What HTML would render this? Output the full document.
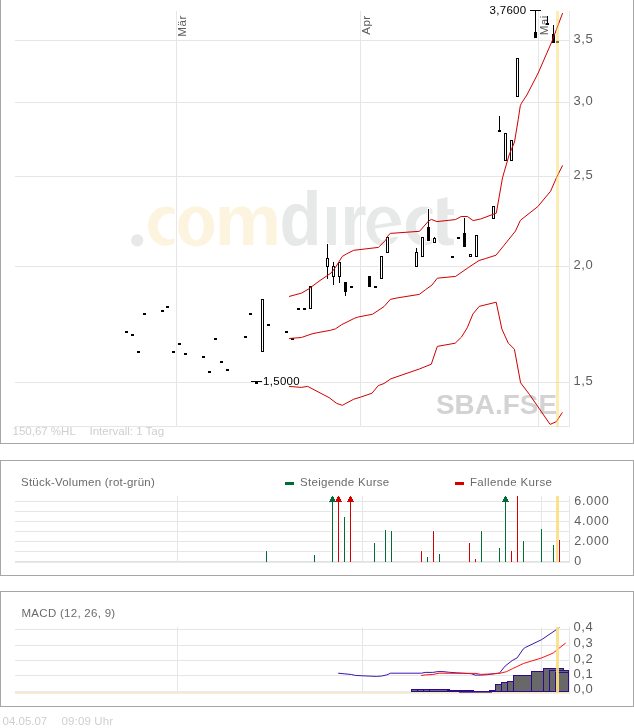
<!DOCTYPE html>
<html><head><meta charset="utf-8"><title>Chart</title>
<style>
html,body{margin:0;padding:0;background:#fff;width:634px;height:728px;overflow:hidden}
svg{display:block;will-change:transform}
text{font-family:"Liberation Sans",sans-serif}
</style></head><body>
<svg width="634" height="728" viewBox="0 0 634 728">
<rect x="0" y="0" width="634" height="728" fill="#fff"/>
<rect x="0" y="0" width="1" height="444" fill="#a6a6a6"/>
<rect x="633" y="0" width="1" height="444" fill="#a6a6a6"/>
<rect x="0" y="443" width="634" height="1" fill="#a6a6a6"/>
<rect x="0" y="460" width="634" height="1" fill="#a6a6a6"/>
<rect x="0" y="575" width="634" height="1" fill="#a6a6a6"/>
<rect x="0" y="460" width="1" height="116" fill="#a6a6a6"/>
<rect x="633" y="460" width="1" height="116" fill="#a6a6a6"/>
<rect x="0" y="591" width="634" height="1" fill="#a6a6a6"/>
<rect x="0" y="706" width="634" height="1" fill="#a6a6a6"/>
<rect x="0" y="591" width="1" height="116" fill="#a6a6a6"/>
<rect x="633" y="591" width="1" height="116" fill="#a6a6a6"/>
<g id="wm">
<circle cx="137.2" cy="240.4" r="6.1" fill="#e7e8e8"/>
<defs>
<clipPath id="cc1"><rect x="140" y="200" width="34.6" height="50"/></clipPath>
<clipPath id="cc2"><rect x="400" y="200" width="32.4" height="50"/></clipPath>
<mask id="me" maskUnits="userSpaceOnUse" x="355" y="200" width="55" height="50"><path fill="#fff" d="M401.20,226.10 C401.20,237.47 393.91,245.70 383.85,245.70 C373.79,245.70 366.50,237.47 366.50,226.10 C366.50,214.73 373.79,206.50 383.85,206.50 C393.91,206.50 401.20,214.73 401.20,226.10 Z"/><path fill="#000" d="M374.80,226.30 A8.70,13.90 0 1,0 392.20,226.30 A8.70,13.90 0 1,0 374.80,226.30 Z"/><polygon fill="#fff" points="374,225.2 393.5,222.3 393.5,226.0 374,228.7"/><polygon fill="#000" points="388,226.8 404,224.4 404,236.0 390.5,237.6"/></mask>
</defs>
<path clip-path="url(#cc1)" fill-rule="evenodd" fill="#fdf4e0" d="M183.60,226.20 C183.60,237.18 175.77,245.80 165.80,245.80 C155.83,245.80 148.00,237.18 148.00,226.20 C148.00,215.22 155.83,206.60 165.80,206.60 C175.77,206.60 183.60,215.22 183.60,226.20 Z M157.80,226.35 A12.00,12.85 0 1,0 181.80,226.35 A12.00,12.85 0 1,0 157.80,226.35 Z"/>
<path fill-rule="evenodd" fill="#fdf4e0" d="M214.20,226.45 C214.20,238.42 206.98,246.40 196.15,246.40 C185.32,246.40 178.10,238.42 178.10,226.45 C178.10,214.48 185.32,206.50 196.15,206.50 C206.98,206.50 214.20,214.48 214.20,226.45 Z M188.20,226.30 A7.80,13.90 0 1,0 203.80,226.30 A7.80,13.90 0 1,0 188.20,226.30 Z"/>
<text transform="translate(214.56,245.4) scale(1.0385,1)" font-family="Liberation Sans" font-weight="bold" font-size="72.23" fill="#fdf4e0">m</text>
<text transform="translate(279.58,245.4) scale(0.8981,1)" font-family="Liberation Sans" font-weight="bold" font-size="76.45" fill="#e7e8e8">d</text>
<text transform="translate(322.36,245.4) scale(0.9025,1)" font-family="Liberation Sans" font-weight="bold" font-size="72.68" fill="#e7e8e8">ı</text>
<text transform="translate(340.59,245.4) scale(0.9281,1)" font-family="Liberation Sans" font-weight="bold" font-size="72.04" fill="#e7e8e8">r</text>
<rect x="355" y="200" width="55" height="50" fill="#e7e8e8" mask="url(#me)"/>
<path clip-path="url(#cc2)" fill-rule="evenodd" fill="#e7e8e8" d="M441.50,226.05 C441.50,236.94 433.67,245.50 423.70,245.50 C413.73,245.50 405.90,236.94 405.90,226.05 C405.90,215.16 413.73,206.60 423.70,206.60 C433.67,206.60 441.50,215.16 441.50,226.05 Z M415.70,226.20 A12.00,12.85 0 1,0 439.70,226.20 A12.00,12.85 0 1,0 415.70,226.20 Z"/>
<path fill="#e7e8e8" d="M437.3,199.5 L447.5,197.1 L447.5,209 L453.9,209 L453.9,215 L447.5,215 L447.5,233.5 Q447.5,238.8 451.8,238.8 L453.9,238.6 L453.9,244.8 Q450.5,245.6 446.5,245.6 Q437.3,245.6 437.3,235.5 Z"/>
</g>
<text x="436" y="414.3" font-family="Liberation Sans" font-weight="bold" font-size="28.3" fill="#d3d3d3" textLength="121" lengthAdjust="spacingAndGlyphs">SBA.FSE</text>
<rect x="15" y="40" width="555" height="1" fill="#e6e6e6"/>
<rect x="15" y="102" width="555" height="1" fill="#e6e6e6"/>
<rect x="15" y="176" width="555" height="1" fill="#e6e6e6"/>
<rect x="15" y="266" width="555" height="1" fill="#e6e6e6"/>
<rect x="15" y="382" width="555" height="1" fill="#e6e6e6"/>
<rect x="15" y="426" width="555" height="1" fill="#e6e6e6"/>
<rect x="176" y="11" width="1" height="416" fill="#e6e6e6"/>
<rect x="360" y="11" width="1" height="416" fill="#e6e6e6"/>
<rect x="538" y="11" width="1" height="416" fill="#e6e6e6"/>
<rect x="569" y="11" width="1" height="416" fill="#e6e6e6"/>
<text x="573.5" y="42.8" font-family="Liberation Sans" font-size="13" fill="#5e5e5e" letter-spacing="0.6">3,5</text>
<text x="573.5" y="104.8" font-family="Liberation Sans" font-size="13" fill="#5e5e5e" letter-spacing="0.6">3,0</text>
<text x="573.5" y="178.8" font-family="Liberation Sans" font-size="13" fill="#5e5e5e" letter-spacing="0.6">2,5</text>
<text x="573.5" y="268.8" font-family="Liberation Sans" font-size="13" fill="#5e5e5e" letter-spacing="0.6">2,0</text>
<text x="573.5" y="384.8" font-family="Liberation Sans" font-size="13" fill="#5e5e5e" letter-spacing="0.6">1,5</text>
<text transform="translate(186.2,15.3) rotate(-90)" text-anchor="end" font-family="Liberation Sans" font-size="11.6" fill="#5e5e5e" letter-spacing="0.45">Mär</text>
<text transform="translate(370.2,15.3) rotate(-90)" text-anchor="end" font-family="Liberation Sans" font-size="11.6" fill="#5e5e5e" letter-spacing="0.45">Apr</text>
<text transform="translate(548.2,15.3) rotate(-90)" text-anchor="end" font-family="Liberation Sans" font-size="11.6" fill="#5e5e5e" letter-spacing="0.45">Mai</text>
<text x="12.5" y="435" font-family="Liberation Sans" font-size="11.5" fill="#cfcfcf">150,67 %HL</text>
<text x="89.5" y="435" font-family="Liberation Sans" font-size="11.5" fill="#cfcfcf">Intervall: 1 Tag</text>
<rect x="263" y="376" width="37" height="11" fill="#fff"/>
<rect x="124" y="330" width="5" height="4" fill="#ffffff"/>
<rect x="130" y="333" width="5" height="4" fill="#ffffff"/>
<rect x="136" y="350" width="5" height="4" fill="#ffffff"/>
<rect x="142" y="312" width="5" height="4" fill="#ffffff"/>
<rect x="160" y="309" width="5" height="4" fill="#ffffff"/>
<rect x="165" y="305" width="5" height="4" fill="#ffffff"/>
<rect x="171" y="350" width="5" height="4" fill="#ffffff"/>
<rect x="177" y="342" width="5" height="4" fill="#ffffff"/>
<rect x="183" y="352" width="5" height="4" fill="#ffffff"/>
<rect x="201" y="355" width="5" height="4" fill="#ffffff"/>
<rect x="207" y="370" width="5" height="4" fill="#ffffff"/>
<rect x="213" y="337" width="5" height="4" fill="#ffffff"/>
<rect x="219" y="360" width="5" height="4" fill="#ffffff"/>
<rect x="225" y="368" width="5" height="4" fill="#ffffff"/>
<rect x="243" y="335" width="5" height="4" fill="#ffffff"/>
<rect x="248" y="312" width="5" height="4" fill="#ffffff"/>
<rect x="254" y="381" width="5" height="4" fill="#ffffff"/>
<rect x="266" y="323" width="5" height="4" fill="#ffffff"/>
<rect x="284" y="330" width="5" height="4" fill="#ffffff"/>
<rect x="290" y="337" width="5" height="4" fill="#ffffff"/>
<rect x="296" y="307" width="5" height="4" fill="#ffffff"/>
<rect x="302" y="307" width="5" height="4" fill="#ffffff"/>
<rect x="349" y="285" width="5" height="4" fill="#ffffff"/>
<rect x="373" y="285" width="5" height="4" fill="#ffffff"/>
<rect x="450" y="255" width="5" height="4" fill="#ffffff"/>
<rect x="456" y="236" width="5" height="4" fill="#ffffff"/>
<rect x="497" y="129" width="5" height="4" fill="#ffffff"/>
<rect x="260" y="298" width="5" height="55" fill="#ffffff"/>
<rect x="308" y="285" width="5" height="25" fill="#ffffff"/>
<rect x="325" y="257" width="5" height="11" fill="#ffffff"/>
<rect x="331" y="265" width="5" height="13" fill="#ffffff"/>
<rect x="337" y="261" width="5" height="17" fill="#ffffff"/>
<rect x="379" y="255" width="5" height="25" fill="#ffffff"/>
<rect x="385" y="236" width="5" height="18" fill="#ffffff"/>
<rect x="414" y="251" width="5" height="17" fill="#ffffff"/>
<rect x="420" y="236" width="5" height="22" fill="#ffffff"/>
<rect x="432" y="237" width="5" height="7" fill="#ffffff"/>
<rect x="468" y="253" width="5" height="5" fill="#ffffff"/>
<rect x="474" y="234" width="5" height="24" fill="#ffffff"/>
<rect x="491" y="205" width="5" height="15" fill="#ffffff"/>
<rect x="503" y="132" width="5" height="30" fill="#ffffff"/>
<rect x="509" y="139" width="5" height="23" fill="#ffffff"/>
<rect x="515" y="57" width="5" height="41" fill="#ffffff"/>
<rect x="326" y="243" width="3" height="16" fill="#ffffff"/>
<rect x="326" y="266" width="3" height="14" fill="#ffffff"/>
<rect x="332" y="261" width="3" height="6" fill="#ffffff"/>
<rect x="332" y="276" width="3" height="10" fill="#ffffff"/>
<rect x="338" y="276" width="3" height="8" fill="#ffffff"/>
<rect x="415" y="247" width="3" height="6" fill="#ffffff"/>
<rect x="433" y="236" width="3" height="3" fill="#ffffff"/>
<rect x="498" y="115" width="3" height="16" fill="#ffffff"/>
<rect x="344" y="291" width="3" height="6" fill="#ffffff"/>
<rect x="427" y="208" width="3" height="20" fill="#ffffff"/>
<rect x="463" y="217" width="3" height="17" fill="#ffffff"/>
<rect x="534" y="9" width="3" height="24" fill="#ffffff"/>
<rect x="552" y="24" width="3" height="11" fill="#ffffff"/>
<rect x="343" y="281" width="5" height="12" fill="#ffffff"/>
<rect x="367" y="275" width="5" height="13" fill="#ffffff"/>
<rect x="426" y="226" width="5" height="16" fill="#ffffff"/>
<rect x="462" y="232" width="5" height="16" fill="#ffffff"/>
<rect x="533" y="31" width="5" height="8" fill="#ffffff"/>
<rect x="551" y="33" width="5" height="11" fill="#ffffff"/>
<rect x="125" y="331" width="3" height="2" fill="#000"/>
<rect x="131" y="334" width="3" height="2" fill="#000"/>
<rect x="137" y="351" width="3" height="2" fill="#000"/>
<rect x="143" y="313" width="3" height="2" fill="#000"/>
<rect x="161" y="310" width="3" height="2" fill="#000"/>
<rect x="166" y="306" width="3" height="2" fill="#000"/>
<rect x="172" y="351" width="3" height="2" fill="#000"/>
<rect x="178" y="343" width="3" height="2" fill="#000"/>
<rect x="184" y="353" width="3" height="2" fill="#000"/>
<rect x="202" y="356" width="3" height="2" fill="#000"/>
<rect x="208" y="371" width="3" height="2" fill="#000"/>
<rect x="214" y="338" width="3" height="2" fill="#000"/>
<rect x="220" y="361" width="3" height="2" fill="#000"/>
<rect x="226" y="369" width="3" height="2" fill="#000"/>
<rect x="244" y="336" width="3" height="2" fill="#000"/>
<rect x="249" y="313" width="3" height="2" fill="#000"/>
<rect x="255" y="382" width="3" height="2" fill="#000"/>
<rect x="267" y="324" width="3" height="2" fill="#000"/>
<rect x="285" y="331" width="3" height="2" fill="#000"/>
<rect x="291" y="338" width="3" height="2" fill="#000"/>
<rect x="297" y="308" width="3" height="2" fill="#000"/>
<rect x="303" y="308" width="3" height="2" fill="#000"/>
<rect x="350" y="286" width="3" height="2" fill="#000"/>
<rect x="374" y="286" width="3" height="2" fill="#000"/>
<rect x="451" y="256" width="3" height="2" fill="#000"/>
<rect x="457" y="237" width="3" height="2" fill="#000"/>
<rect x="546" y="23" width="3" height="2" fill="#000"/>
<rect x="498" y="130" width="3" height="2" fill="#000"/>
<rect x="556" y="41" width="3" height="2" fill="#303030"/>
<rect x="261.5" y="299.5" width="2" height="52" fill="#fff" stroke="#000" stroke-width="1"/>
<rect x="309.5" y="286.5" width="2" height="22" fill="#fff" stroke="#000" stroke-width="1"/>
<rect x="326.5" y="258.5" width="2" height="8" fill="#fff" stroke="#000" stroke-width="1"/>
<rect x="332.5" y="266.5" width="2" height="10" fill="#fff" stroke="#000" stroke-width="1"/>
<rect x="338.5" y="262.5" width="2" height="14" fill="#fff" stroke="#000" stroke-width="1"/>
<rect x="380.5" y="256.5" width="2" height="22" fill="#fff" stroke="#000" stroke-width="1"/>
<rect x="386.5" y="237.5" width="2" height="15" fill="#fff" stroke="#000" stroke-width="1"/>
<rect x="415.5" y="252.5" width="2" height="14" fill="#fff" stroke="#000" stroke-width="1"/>
<rect x="421.5" y="237.5" width="2" height="19" fill="#fff" stroke="#000" stroke-width="1"/>
<rect x="433.5" y="238.5" width="2" height="4" fill="#fff" stroke="#000" stroke-width="1"/>
<rect x="469.5" y="254.5" width="2" height="2" fill="#fff" stroke="#000" stroke-width="1"/>
<rect x="475.5" y="235.5" width="2" height="21" fill="#fff" stroke="#000" stroke-width="1"/>
<rect x="492.5" y="206.5" width="2" height="12" fill="#fff" stroke="#000" stroke-width="1"/>
<rect x="504.5" y="133.5" width="2" height="27" fill="#fff" stroke="#000" stroke-width="1"/>
<rect x="510.5" y="140.5" width="2" height="20" fill="#fff" stroke="#000" stroke-width="1"/>
<rect x="516.5" y="58.5" width="2" height="38" fill="#fff" stroke="#000" stroke-width="1"/>
<rect x="327" y="244" width="1" height="14" fill="#000"/>
<rect x="327" y="267" width="1" height="12" fill="#000"/>
<rect x="333" y="262" width="1" height="4" fill="#000"/>
<rect x="333" y="277" width="1" height="8" fill="#000"/>
<rect x="339" y="277" width="1" height="6" fill="#000"/>
<rect x="416" y="248" width="1" height="4" fill="#000"/>
<rect x="434" y="237" width="1" height="1" fill="#000"/>
<rect x="499" y="116" width="1" height="14" fill="#000"/>
<rect x="345" y="292" width="1" height="4" fill="#000"/>
<rect x="428" y="209" width="1" height="18" fill="#000"/>
<rect x="464" y="218" width="1" height="15" fill="#000"/>
<rect x="535" y="10" width="1" height="22" fill="#000"/>
<rect x="553" y="25" width="1" height="9" fill="#000"/>
<rect x="547" y="16" width="1" height="7" fill="#000"/>
<rect x="344" y="282" width="3" height="10" fill="#000"/>
<rect x="368" y="276" width="3" height="11" fill="#000"/>
<rect x="427" y="227" width="3" height="14" fill="#000"/>
<rect x="463" y="233" width="3" height="14" fill="#000"/>
<rect x="534" y="32" width="3" height="6" fill="#000"/>
<rect x="552" y="34" width="3" height="9" fill="#000"/>
<rect x="251" y="381" width="11" height="1" fill="#000"/>
<rect x="530" y="10" width="11" height="1" fill="#000"/>
<text x="263" y="384.8" font-family="Liberation Sans" font-size="11.5" letter-spacing="0.3" fill="#000">1,5000</text>
<text x="489.5" y="14.1" font-family="Liberation Sans" font-size="11.5" letter-spacing="0.3" fill="#000">3,7600</text>
<polyline points="289.0,296.5 301.5,293.1 309.5,288.5 311.5,286.8 320.0,280.5 327.4,275.5 331.1,273.0 335.6,267.2 342.2,256.5 346.3,254.0 353.7,250.3 378.4,247.4 385.8,240.0 388.2,235.4 390.3,233.4 419.5,231.3 428.6,221.0 431.5,219.4 436.9,221.6 455.4,219.6 461.2,216.5 467.4,216.5 473.2,220.6 480.6,219.0 496.3,213.1 502.5,177.8 504.1,172.2 509.1,155.0 514.5,142.0 518.2,119.7 520.3,105.7 521.5,103.2 526.9,95.0 538.2,73.0 552.2,40.8 562.6,13.1" fill="none" stroke="#d00000" stroke-width="1.0" stroke-linejoin="round"/>
<polyline points="289.0,338.5 301.4,337.5 312.1,333.8 317.8,332.6 330.4,330.3 335.5,328.8 341.8,324.6 354.4,318.3 358.2,317.0 372.6,314.2 384.0,306.6 390.3,299.4 397.9,297.8 419.3,294.4 425.6,289.6 431.9,285.1 437.3,278.2 455.6,276.4 468.3,267.6 479.0,260.5 485.4,258.6 496.0,255.2 503.8,245.6 515.5,231.0 520.4,220.3 537.9,206.5 550.6,191.2 556.6,177.4 562.6,165.4" fill="none" stroke="#d00000" stroke-width="1.0" stroke-linejoin="round"/>
<polyline points="289.0,386.4 301.4,387.4 307.7,386.4 329.2,397.7 336.7,403.4 342.4,405.3 353.8,399.2 360.7,397.1 372.0,393.2 378.3,385.6 384.0,383.5 390.9,378.8 419.3,369.0 431.3,364.2 437.3,346.4 455.2,343.2 461.5,337.0 467.2,327.9 472.9,314.0 479.2,306.4 496.2,302.2 501.9,329.1 508.2,343.0 514.4,349.2 520.6,382.8 529.5,394.5 550.1,424.4 556.3,421.7 562.4,412.4" fill="none" stroke="#d00000" stroke-width="1.0" stroke-linejoin="round"/>
<rect x="556" y="11" width="3" height="416" fill="#fcd44a" fill-opacity="0.42"/>
<text x="21" y="485.8" font-family="Liberation Sans" font-size="11.5" fill="#6b6b6b" letter-spacing="0.23">Stück-Volumen (rot-grün)</text>
<rect x="285" y="482" width="9" height="3" fill="#006b35"/>
<text x="300" y="485.8" font-family="Liberation Sans" font-size="11.5" fill="#6b6b6b" letter-spacing="0.3">Steigende Kurse</text>
<rect x="455" y="482" width="9" height="3" fill="#d40000"/>
<text x="470" y="485.8" font-family="Liberation Sans" font-size="11.5" fill="#6b6b6b" letter-spacing="0.35">Fallende Kurse</text>
<rect x="15" y="501" width="555" height="1" fill="#e6e6e6"/>
<rect x="15" y="511" width="555" height="1" fill="#e6e6e6"/>
<rect x="15" y="521" width="555" height="1" fill="#e6e6e6"/>
<rect x="15" y="531" width="555" height="1" fill="#e6e6e6"/>
<rect x="15" y="541" width="555" height="1" fill="#e6e6e6"/>
<rect x="15" y="551" width="555" height="1" fill="#e6e6e6"/>
<rect x="15" y="561" width="555" height="1" fill="#e2e2e2"/>
<rect x="15" y="562" width="555" height="1" fill="#e9e9e9"/>
<rect x="177" y="496" width="1" height="65" fill="#e6e6e6"/>
<rect x="362" y="496" width="1" height="65" fill="#e6e6e6"/>
<rect x="541" y="496" width="1" height="65" fill="#e6e6e6"/>
<rect x="569" y="496" width="1" height="65" fill="#e6e6e6"/>
<text x="574.3" y="505.2" font-family="Liberation Sans" font-size="12.5" fill="#5e5e5e" letter-spacing="0.75">6.000</text>
<text x="574.3" y="525.2" font-family="Liberation Sans" font-size="12.5" fill="#5e5e5e" letter-spacing="0.75">4.000</text>
<text x="574.3" y="545.2" font-family="Liberation Sans" font-size="12.5" fill="#5e5e5e" letter-spacing="0.75">2.000</text>
<text x="574.3" y="565.2" font-family="Liberation Sans" font-size="12.5" fill="#5e5e5e" letter-spacing="0.75">0</text>
<rect x="556" y="496" width="3" height="66" fill="#fddf81" fill-opacity="0.9"/>
<rect x="265" y="551" width="3" height="10" fill="#ffffff"/>
<rect x="313" y="555" width="3" height="6" fill="#ffffff"/>
<rect x="331" y="496" width="3" height="65" fill="#ffffff"/>
<rect x="330" y="497" width="5" height="2" fill="#ffffff"/>
<rect x="329" y="499" width="7" height="2" fill="#ffffff"/>
<rect x="328" y="500" width="9" height="3" fill="#ffffff"/>
<rect x="337" y="496" width="3" height="65" fill="#ffffff"/>
<rect x="336" y="497" width="5" height="2" fill="#ffffff"/>
<rect x="335" y="499" width="7" height="2" fill="#ffffff"/>
<rect x="334" y="500" width="9" height="3" fill="#ffffff"/>
<rect x="343" y="517" width="3" height="44" fill="#ffffff"/>
<rect x="349" y="496" width="3" height="65" fill="#ffffff"/>
<rect x="348" y="497" width="5" height="2" fill="#ffffff"/>
<rect x="347" y="499" width="7" height="2" fill="#ffffff"/>
<rect x="346" y="500" width="9" height="3" fill="#ffffff"/>
<rect x="373" y="543" width="3" height="18" fill="#ffffff"/>
<rect x="384" y="530" width="3" height="31" fill="#ffffff"/>
<rect x="390" y="531" width="3" height="30" fill="#ffffff"/>
<rect x="420" y="551" width="3" height="10" fill="#ffffff"/>
<rect x="426" y="557" width="3" height="4" fill="#ffffff"/>
<rect x="432" y="531" width="3" height="30" fill="#ffffff"/>
<rect x="438" y="554" width="3" height="7" fill="#ffffff"/>
<rect x="468" y="543" width="3" height="18" fill="#ffffff"/>
<rect x="474" y="559" width="3" height="2" fill="#ffffff"/>
<rect x="480" y="531" width="3" height="30" fill="#ffffff"/>
<rect x="498" y="548" width="3" height="13" fill="#ffffff"/>
<rect x="504" y="496" width="3" height="65" fill="#ffffff"/>
<rect x="503" y="497" width="5" height="2" fill="#ffffff"/>
<rect x="502" y="499" width="7" height="2" fill="#ffffff"/>
<rect x="501" y="500" width="9" height="3" fill="#ffffff"/>
<rect x="510" y="551" width="3" height="10" fill="#ffffff"/>
<rect x="516" y="496" width="3" height="65" fill="#ffffff"/>
<rect x="522" y="541" width="3" height="20" fill="#ffffff"/>
<rect x="540" y="529" width="3" height="32" fill="#ffffff"/>
<rect x="552" y="545" width="3" height="16" fill="#ffffff"/>
<rect x="558" y="540" width="3" height="21" fill="#ffffff"/>
<rect x="266" y="551" width="1" height="11" fill="#006b35"/>
<rect x="314" y="555" width="1" height="7" fill="#006b35"/>
<rect x="332" y="496" width="1" height="66" fill="#006b35"/>
<rect x="332" y="496" width="1" height="1" fill="#006b35"/>
<rect x="331" y="497" width="3" height="2" fill="#006b35"/>
<rect x="330" y="499" width="5" height="2" fill="#006b35"/>
<rect x="329" y="501" width="7" height="1" fill="#006b35"/>
<rect x="338" y="496" width="1" height="66" fill="#d40000"/>
<rect x="338" y="496" width="1" height="1" fill="#d40000"/>
<rect x="337" y="497" width="3" height="2" fill="#d40000"/>
<rect x="336" y="499" width="5" height="2" fill="#d40000"/>
<rect x="335" y="501" width="7" height="1" fill="#d40000"/>
<rect x="344" y="517" width="1" height="45" fill="#006b35"/>
<rect x="350" y="496" width="1" height="66" fill="#d40000"/>
<rect x="350" y="496" width="1" height="1" fill="#d40000"/>
<rect x="349" y="497" width="3" height="2" fill="#d40000"/>
<rect x="348" y="499" width="5" height="2" fill="#d40000"/>
<rect x="347" y="501" width="7" height="1" fill="#d40000"/>
<rect x="374" y="543" width="1" height="19" fill="#006b35"/>
<rect x="385" y="530" width="1" height="32" fill="#006b35"/>
<rect x="391" y="531" width="1" height="31" fill="#006b35"/>
<rect x="421" y="551" width="1" height="11" fill="#d40000"/>
<rect x="427" y="557" width="1" height="5" fill="#006b35"/>
<rect x="433" y="531" width="1" height="31" fill="#d40000"/>
<rect x="439" y="554" width="1" height="8" fill="#006b35"/>
<rect x="469" y="543" width="1" height="19" fill="#d40000"/>
<rect x="475" y="559" width="1" height="3" fill="#d40000"/>
<rect x="481" y="531" width="1" height="31" fill="#006b35"/>
<rect x="499" y="548" width="1" height="14" fill="#006b35"/>
<rect x="505" y="496" width="1" height="66" fill="#006b35"/>
<rect x="505" y="496" width="1" height="1" fill="#006b35"/>
<rect x="504" y="497" width="3" height="2" fill="#006b35"/>
<rect x="503" y="499" width="5" height="2" fill="#006b35"/>
<rect x="502" y="501" width="7" height="1" fill="#006b35"/>
<rect x="511" y="551" width="1" height="11" fill="#d40000"/>
<rect x="517" y="496" width="1" height="66" fill="#d40000"/>
<rect x="523" y="541" width="1" height="21" fill="#006b35"/>
<rect x="541" y="529" width="1" height="33" fill="#006b35"/>
<rect x="553" y="545" width="1" height="17" fill="#006b35"/>
<rect x="559" y="540" width="1" height="22" fill="#d40000"/>
<text x="21.5" y="617" font-family="Liberation Sans" font-size="11.5" fill="#6b6b6b" letter-spacing="0.28">MACD (12, 26, 9)</text>
<rect x="15" y="629" width="555" height="1" fill="#e6e6e6"/>
<rect x="15" y="645" width="555" height="1" fill="#e6e6e6"/>
<rect x="15" y="660" width="555" height="1" fill="#e6e6e6"/>
<rect x="15" y="675" width="555" height="1" fill="#e6e6e6"/>
<rect x="177" y="627" width="1" height="65" fill="#e6e6e6"/>
<rect x="362" y="627" width="1" height="65" fill="#e6e6e6"/>
<rect x="541" y="627" width="1" height="65" fill="#e6e6e6"/>
<rect x="569" y="627" width="1" height="65" fill="#e6e6e6"/>
<rect x="15" y="691" width="555" height="1" fill="#ebebf0"/>
<rect x="15" y="692" width="555" height="1" fill="#f8e9b6"/>
<rect x="15" y="693" width="555" height="1" fill="#eeeef2"/>
<text x="573.5" y="631.4" font-family="Liberation Sans" font-size="13" fill="#5e5e5e" letter-spacing="0.6">0,4</text>
<text x="573.5" y="647.4" font-family="Liberation Sans" font-size="13" fill="#5e5e5e" letter-spacing="0.6">0,3</text>
<text x="573.5" y="662.8" font-family="Liberation Sans" font-size="13" fill="#5e5e5e" letter-spacing="0.6">0,2</text>
<text x="573.5" y="678.1" font-family="Liberation Sans" font-size="13" fill="#5e5e5e" letter-spacing="0.6">0,1</text>
<text x="573.5" y="693.4" font-family="Liberation Sans" font-size="13" fill="#5e5e5e" letter-spacing="0.6">0,0</text>
<rect x="411" y="689" width="39" height="3" fill="#2c0a8c"/>
<rect x="412" y="690" width="5" height="1" fill="#6a6a7a"/>
<rect x="418" y="690" width="5" height="1" fill="#6a6a7a"/>
<rect x="424" y="690" width="5" height="1" fill="#6a6a7a"/>
<rect x="430" y="690" width="17" height="1" fill="#6a6a7a"/>
<rect x="450" y="690" width="24" height="2" fill="#2c0a8c"/>
<rect x="474" y="691" width="15" height="1" fill="#2c0a8c"/>
<rect x="459" y="692" width="33" height="1" fill="#8a5c78"/>
<rect x="489" y="690" width="6" height="2" fill="#2c0a8c"/>
<rect x="495.5" y="684.5" width="6" height="7" fill="#686868" stroke="#2c0a8c" stroke-width="1"/>
<rect x="501.5" y="682.5" width="6" height="9" fill="#686868" stroke="#2c0a8c" stroke-width="1"/>
<rect x="507.5" y="681.5" width="6" height="10" fill="#686868" stroke="#2c0a8c" stroke-width="1"/>
<rect x="513.5" y="675.5" width="18" height="16" fill="#686868" stroke="#2c0a8c" stroke-width="1"/>
<rect x="531.5" y="671.5" width="12" height="20" fill="#686868" stroke="#2c0a8c" stroke-width="1"/>
<rect x="543.5" y="668.5" width="20" height="23" fill="#686868" stroke="#2c0a8c" stroke-width="1"/>
<rect x="549.5" y="670.5" width="19" height="21" fill="#686868" stroke="#2c0a8c" stroke-width="1"/>
<rect x="555.5" y="672.5" width="13" height="19" fill="#686868" stroke="#2c0a8c" stroke-width="1"/>
<polyline points="338.2,673.2 351.5,674.5 355.2,675.4 362.8,675.8 376.7,676.4 381.7,676.0 386.8,674.9 390.6,673.2 421.5,673.2 425.2,672.4 432.8,672.4 437.9,671.6 442.9,671.6 449.5,672.3 456.1,672.8 471.2,673.7 475.0,675.1 480.7,675.1 487.3,674.7 499.5,673.0 505.1,666.1 512.1,660.6 517.1,657.9 523.4,648.8 525.3,647.5 541.7,639.6 559.4,627.6" fill="none" stroke="#3a16b0" stroke-width="1.0" stroke-linejoin="round"/>
<polyline points="421.2,675.5 425.2,674.9 432.8,674.5 439.1,673.2 476.0,673.4 480.7,674.4 489.2,674.0 499.5,673.4 506.4,671.7 512.7,668.6 523.4,663.5 531.6,661.0 541.7,657.9 553.1,653.1 558.1,649.0 565.7,643.0" fill="none" stroke="#ff1010" stroke-width="1.0" stroke-linejoin="round"/>
<rect x="556" y="627" width="3" height="66" fill="#fddf81" fill-opacity="0.9"/>
<text x="2.5" y="725" font-family="Liberation Sans" font-size="11.5" fill="#cfcfcf">04.05.07</text>
<text x="61.5" y="725" font-family="Liberation Sans" font-size="11.5" fill="#cfcfcf" letter-spacing="0.15">09:09 Uhr</text>
</svg>
</body></html>
